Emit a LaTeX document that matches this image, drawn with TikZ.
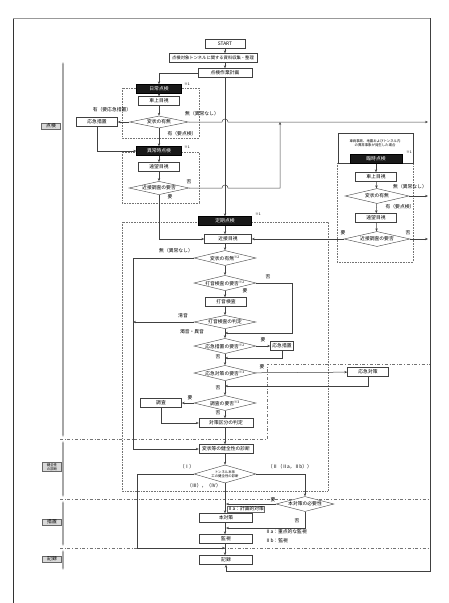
\documentclass[tikz,border=0pt]{standalone}
\usepackage{fontspec}
\setmainfont{Noto Sans CJK JP}
\usetikzlibrary{positioning,arrows.meta,shapes.geometric,calc}
\newcommand\fsz{\fontsize{4.8}{5.6}\selectfont}
\newcommand\nsz{\fontsize{3.4}{4}\selectfont}
\tikzset{
  box/.style={draw=black!75, fill=white, font=\fsz, inner sep=0.6pt,
              minimum height=9pt, minimum width=41pt},
  blackbox/.style={box, fill=black!90, text=white, draw=black},
  ask/.style={diamond, draw=black!75, fill=white, aspect=4, inner sep=0.2pt,
              minimum width=62pt, minimum height=15pt, font=\fsz},
  lbl/.style={font=\fsz, inner sep=0.5pt},
  note/.style={font=\nsz, inner sep=0pt},
  flow/.style={-{Stealth[length=3pt,width=2.4pt]}, draw=black!75, line width=0.5pt},
  line/.style={draw=black!75, line width=0.5pt},
  group/.style={draw=black!55, densely dotted, line width=0.6pt},
  stageline/.style={draw=black!55, dash dot, line width=0.6pt},
  phase/.style={draw=black!60, fill=black!15, font=\fsz, inner sep=1pt,
                minimum width=19pt, align=center},
  timeline/.style={{Stealth[length=3pt]}-{Stealth[length=3pt]}, draw=black!35, line width=1.2pt},
}
\begin{document}
\begin{tikzpicture}[x=1pt,y=-1pt]
  \useasboundingbox (0,0) rectangle (448,603);
  \draw[black!80, line width=1pt] (13,18) -- (13,603);
  \draw[black!40, line width=0.4pt] (13,18) -- (430,18);

  % stages on the left
  \draw[timeline] (63,62) -- (63,437);
  \draw[timeline] (63,441) -- (63,497);
  \draw[timeline] (63,501) -- (63,546);
  \draw[timeline] (63,550) -- (63,570);
  \node[phase] (p1) at (51,126) {点検};
  \node[phase, font=\nsz] (p2) at (52,467) {健全性\\の診断};
  \node[phase] (p3) at (52,522) {措置};
  \node[phase] (p4) at (52,559) {記録};
  \draw[stageline] (60,439) -- (267,439) -- (267,364) -- (430,364);
  \draw[stageline] (60,499) -- (430,499);
  \draw[stageline] (60,548) -- (430,548);

  % groups
  \draw[group] (122,88) rectangle (199,138);
  \draw[group] (122,152) rectangle (199,203);
  \draw[group] (122,222) rectangle (328,491);
  \draw[group] (337,163) rectangle (413,262);

  % start
  \node[box, minimum width=40pt] (start) at (225,44) {START};
  \node[box, minimum width=88pt, font=\fontsize{4.3}{5}\selectfont] (data) at (213,58) {点検対象トンネルに関する資料収集・整理};
  \node[box, minimum width=54pt] (plan) at (225,73) {点検作業計画};

  % daily inspection
  \node[blackbox, minimum width=45pt] (daily) at (159,89) {日常点検};
  \node[note] at (187,84) {※1};
  \node[box] (dsight) at (159,101) {車上目視};
  \node[ask, minimum width=59pt, minimum height=12pt] (dq) at (159,122) {変状の有無};
  \node[box] (emg1) at (97,122) {応急措置};

  % abnormal inspection
  \node[blackbox, minimum width=45pt] (abn) at (159,151) {異常時点検};
  \node[note] at (187,147) {※1};
  \node[box] (asight) at (159,167) {遠望目視};
  \node[ask, minimum width=60pt, minimum height=12pt] (aq) at (159,188) {近接調査の要否};

  % periodic inspection
  \node[blackbox, minimum width=53pt] (reg) at (225,221) {定期点検};
  \node[note] at (258,214) {※1};
  \node[box, minimum width=47pt] (close) at (228,239) {近接目視};
  \node[ask] (rq1) at (225,258) {変状の有無\textsuperscript{※2}};
  \node[ask] (rq2) at (225,283) {打音検査の要否\textsuperscript{※2}};
  \node[box] (ham) at (226,302) {打音検査};
  \node[ask, minimum height=13pt] (rq3) at (225,322) {打音検査の判定};
  \node[ask, minimum height=13pt] (rq4) at (225,346) {応急措置の要否\textsuperscript{※2}};
  \node[box, minimum width=23pt] (emg2) at (282,346) {応急措置};
  \node[ask] (rq5) at (225,373) {応急対策の要否\textsuperscript{※3}};
  \node[box] (emc) at (368,372) {応急対策};
  \node[ask] (rq6) at (225,403) {調査の要否\textsuperscript{※3}};
  \node[box] (inv) at (161,403) {調査};
  \node[box, minimum width=54pt] (judge) at (226,423) {対策区分の判定};
  \node[box, minimum width=54pt] (diag) at (226,449) {変状等の健全性の診断};
  \node[ask, minimum height=18pt, align=center, font=\nsz] (dq7) at (225,474) {トンネル本体\\工の健全性の診断};
  \node[ask, minimum width=58pt] (need) at (305,504) {本対策の必要性};
  \node[box, minimum width=53pt] (meas) at (226,518) {本対策};
  \node[box, minimum width=53pt] (mon) at (226,539) {監視};
  \node[box, minimum width=53pt] (rec) at (226,560) {記録};

  % emergency inspection
  \node[draw=black!75, minimum width=75pt, minimum height=30pt] (tbox) at (375.5,148) {};
  \node[lbl, font=\nsz, align=center] (ttxt) at (375,143) {車両事故、地震およびトンネル内\\の異常事象が発生した場合};
  \node[note] at (409,152) {※1};
  \node[blackbox, minimum width=52pt] (temp) at (376,159) {臨時点検};
  \node[box] (tsight) at (376,177) {車上目視};
  \node[ask, minimum width=64pt] (tq1) at (377,196) {変状の有無};
  \node[box] (tfar) at (376,218) {遠望目視};
  \node[ask, minimum width=66pt] (tq2) at (377,239) {近接調査の要否};

  % main column
  \draw[flow] (start) -- (start |- data.north);
  \draw[flow] (start |- data.south) -- (plan);
  \draw[flow] (plan) -- (reg);
  \draw[flow] (plan.west) -| (daily.north);
  \draw[flow] (daily) -- (dsight);
  \draw[flow] (dsight) -- (dq);
  \draw[flow] (dq) -- (emg1);
  \draw[flow] (dq) -- (abn);
  \draw[flow] (emg1.south) |- (abn.west);
  \draw[flow] (dq.east) -- (222,122) arc[start angle=180, end angle=0, radius=3pt] -- (428,122);
  \draw[flow] (abn) -- (asight);
  \draw[flow] (asight) -- (aq);
  \draw[flow] (aq.east) -- (222,188) arc[start angle=180, end angle=0, radius=3pt] -- (280,188) -- (280,122);
  \draw[flow] (aq.south) |- (close.west);

  \draw[flow] (reg) -- (reg |- close.north);
  \draw[flow] (reg |- close.south) -- (rq1);
  \draw[flow] (rq1) -- (rq2);
  \draw[flow] (rq2) -- (rq2 |- ham.north);
  \draw[flow] (rq2 |- ham.south) -- (rq3);
  \draw[flow] (rq3) -- (rq4);
  \draw[flow] (rq4) -- (rq5);
  \draw[flow] (rq5) -- (rq6);
  \draw[flow] (rq6) -- (rq6 |- judge.north);
  \draw[flow] (rq6 |- judge.south) -- (rq6 |- diag.north);
  \draw[flow] (rq6 |- diag.south) -- (dq7);
  \draw[flow] (rq1.west) -- (133,258) |- (diag.west);
  \draw[flow] (rq2.east) -- (292,283) |- (225,333);
  \draw[flow] (rq3.west) -- (133,322);
  \draw[flow] (rq4) -- (emg2);
  \draw[flow] (emg2.south) |- (225,358);
  \draw[flow] (rq5) -- (emc);
  \draw[flow] (emc.south) |- (225,386);
  \draw[flow] (rq6) -- (inv);
  \draw[flow] (inv.south) |- (judge.west);

  \draw[flow] (dq7.west) -- (137,474) |- (225,548);
  \draw[flow] (dq7.east) -| (need.north);
  \draw[flow] (need.west) -- (226,504);
  \draw[flow] (need.south) |- (226,528);
  \draw[flow] (dq7) -- (dq7 |- meas.north);
  \draw[flow] (dq7 |- meas.south) -- (dq7 |- mon.north);
  \draw[flow] (dq7 |- mon.south) -- (dq7 |- rec.north);
  \draw[flow] (430,18) -- (430,571) -| (rec.south);

  \draw[flow] (temp) -- (tsight);
  \draw[flow] (tsight) -- (tq1);
  \draw[flow] (tq1.east) -- (428,196);
  \draw[flow] (tq1) -- (tfar);
  \draw[flow] (tfar) -- (tq2);
  \draw[flow] (tq2.east) -- (428,239);
  \draw[flow] (tq2) -- (close);

  % labels
  \node[lbl] at (112,110) {有（要応急措置）};
  \node[lbl] at (202,114) {無（異常なし）};
  \node[lbl] at (182,134) {有（要点検）};
  \node[lbl] at (189,182) {否};
  \node[lbl] at (170,197) {要};
  \node[lbl] at (176,251) {無（異常なし）};
  \node[lbl] at (268,277) {否};
  \node[lbl] at (245,291) {要};
  \node[lbl] at (183,316) {清音};
  \node[lbl] at (192,332) {濁音・異音};
  \node[lbl] at (263,340) {要};
  \node[lbl] at (218,357) {否};
  \node[lbl] at (262,367) {要};
  \node[lbl] at (218,388) {否};
  \node[lbl] at (190,398) {要};
  \node[lbl] at (218,413) {否};
  \node[lbl] at (187,467) {（Ⅰ）};
  \node[lbl] at (290,467) {（Ⅱ（Ⅱa，Ⅱb））};
  \node[lbl] at (204,486) {（Ⅲ），（Ⅳ）};
  \node[lbl] at (273,500) {要};
  \node[lbl] at (297,521) {否};
  \node[lbl, draw=black!60, anchor=west] at (227,509) {Ⅱa：計画的対策};
  \node[lbl, anchor=west] at (265,532) {Ⅱa：重点的な監視};
  \node[lbl, anchor=west] at (265,541) {Ⅱb：監視};
  \node[lbl] at (410,187) {無（異常なし）};
  \node[lbl] at (400,207) {有（要点検）};
  \node[lbl] at (343,233) {要};
  \node[lbl] at (408,233) {否};
\end{tikzpicture}
\end{document}
